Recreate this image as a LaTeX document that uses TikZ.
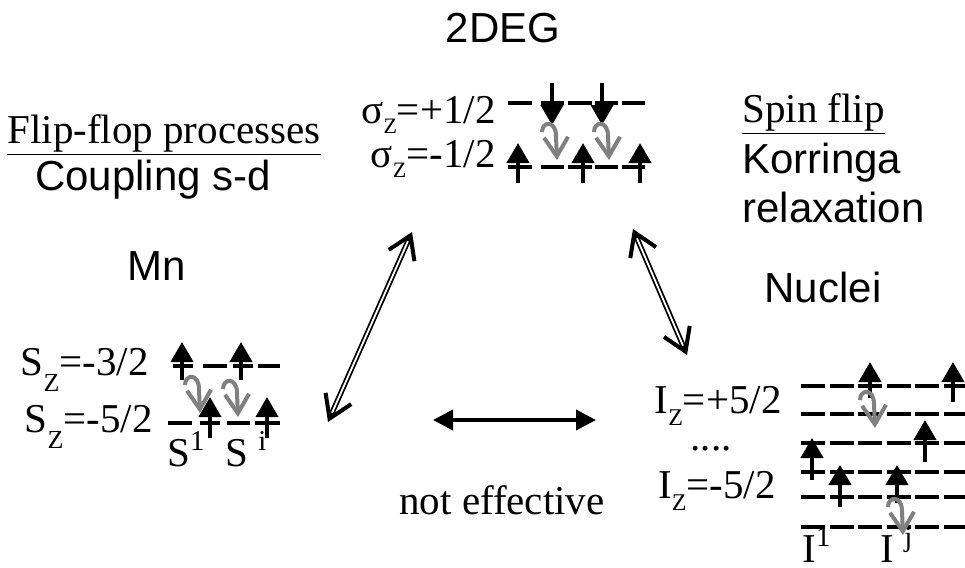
\documentclass[tikz,border=0pt]{standalone}
\usepackage{fontspec}
\setmainfont{Liberation Serif}
\setsansfont{Liberation Sans}
\usetikzlibrary{arrows.meta, calc}
\newcommand\zsub[2]{\raisebox{-#1}{\fontsize{#2}{#2}\selectfont Z}}
\tikzset{
  every picture/.style={x=0.5pt, y=-0.5pt},
  txt/.style={inner sep=0pt, font=\fontsize{20.5}{24}\selectfont},
  head/.style={inner sep=0pt, font=\fontsize{21}{25}\selectfont\sffamily},
  lvl/.style={line width=1.8pt},
  spin/.style={line width=2pt, -{Triangle[length=10pt, width=11pt]}},
  hopline/.style={draw=gray, line width=2pt, -{Straight Barb[length=9.5pt, width=12pt]}},
  hop/.pic={\draw[hopline] (-15,-28) .. controls (-15,-39) and (-1,-40) .. (-1,-24) -- (0,0);},
  link/.style={double, double distance=0.9pt, line width=0.9pt},
  barb/.style={line width=2pt, -{Straight Barb[length=11pt, width=14pt]}},
  both/.style={line width=2pt, {Triangle[length=10pt, width=10pt]}-{Triangle[length=10pt, width=10pt]}},
}
\begin{document}
\begin{tikzpicture}
  \useasboundingbox (0,0) rectangle (965,568);
  % titles and notes
  \node[head, anchor=base] (deg) at (503,42) {2DEG};
  \node[txt, anchor=base] (flipflop) at (164,143) {\underline{Flip-flop processes}};
  \node[head, anchor=base] (coupling) at (153,190) {Coupling s-d};
  \node[txt, anchor=base west] (spinflip) at (742,122) {\underline{Spin flip}};
  \node[head, anchor=base west] (korringa) at (742,173) {Korringa};
  \node[head, anchor=base west] (relax) at (742,222) {relaxation};
  \node[head, anchor=base] (mn) at (157,280) {Mn};
  \node[head, anchor=base] (nuclei) at (823,302) {Nuclei};
  \node[txt, anchor=base] (noteff) at (502,514) {not effective};

  % level labels
  \node[txt, anchor=base east] (sigup) at (496,123) {σ\zsub{5pt}{11pt}=+1/2};
  \node[txt, anchor=base east] (sigdn) at (496,167) {σ\zsub{5pt}{11pt}=-1/2};
  \node[txt, anchor=base east] (mnup) at (149,375) {S\zsub{8pt}{13pt}=-3/2};
  \node[txt, anchor=base east] (mndn) at (153,432) {S\zsub{8pt}{13pt}=-5/2};
  \node[txt, anchor=base west] (sone) at (167,466) {S\textsuperscript{1}};
  \node[txt, anchor=base west] (si) at (225,466) {S \textsuperscript{i}};
  \node[txt, anchor=base east] (izup) at (782,413) {I\zsub{6pt}{12pt}=+5/2};
  \node[txt, anchor=base] (izdots) at (711,450) {....};
  \node[txt, anchor=base east] (izdn) at (776,498) {I\zsub{6pt}{12pt}=-5/2};
  \node[txt, anchor=base west] (ione) at (802,562) {I\textsuperscript{1}};
  \node[txt, anchor=base west] (ij) at (880,562) {I \textsuperscript{j}};

  % couplings
  \coordinate (mnEnd) at (328,422);
  \coordinate (degL) at (412,232);
  \coordinate (degR) at (633,229);
  \coordinate (nucEnd) at (687,355);
  \coordinate (mnSide) at (433,420);
  \coordinate (nucSide) at (596,420);
  \draw[link] ($(mnEnd)!3pt!(degL)$) -- ($(degL)!3pt!(mnEnd)$);
  \draw[barb] ($(mnEnd)!5pt!(degL)$) -- (mnEnd);
  \draw[barb] ($(degL)!5pt!(mnEnd)$) -- (degL);
  \draw[link] ($(degR)!3pt!(nucEnd)$) -- ($(nucEnd)!3pt!(degR)$);
  \draw[barb] ($(degR)!5pt!(nucEnd)$) -- (degR);
  \draw[barb] ($(nucEnd)!5pt!(degR)$) -- (nucEnd);
  \draw[both] (mnSide) -- (nucSide);

  % 2DEG levels
  \foreach \y in {103,167}
    \foreach \a/\b in {508/532,541/564,568/592,595/618,622/645}
      \draw[lvl] (\a,\y) -- (\b,\y);
  \foreach \x in {552,602} \draw[spin] (\x,83) -- (\x,125);
  \foreach \x in {518,583,640} \draw[spin] (\x,183) -- (\x,143);
  \pic at (557,160) {hop};
  \pic at (609,160) {hop};

  % Mn levels
  \foreach \a/\b in {173/193,203/227,233/253,258/280} \draw[lvl] (\a,366) -- (\b,366);
  \foreach \a/\b in {168/192,200/220,227/250,255/280} \draw[lvl] (\a,423) -- (\b,423);
  \foreach \x in {182,241} \draw[spin] (\x,380) -- (\x,342);
  \foreach \x in {210,267} \draw[spin] (\x,438) -- (\x,397);
  \pic at (200,413) {hop};
  \pic at (238,417) {hop};

  % nuclear levels
  \foreach \y in {386,414,443,472,497,527}
    \foreach \a in {801,830,858,887,915,944}
      \draw[lvl] (\a,\y) -- ++(24,0);
  \foreach \x/\b/\t in {870/398/362,953/402/362,925/462/420,812/480/438,840/507/465,897/503/465}
    \draw[spin] (\x,\b) -- (\x,\t);
  \pic at (875,428) {hop};
  \pic at (903,535) {hop};
\end{tikzpicture}
\end{document}
